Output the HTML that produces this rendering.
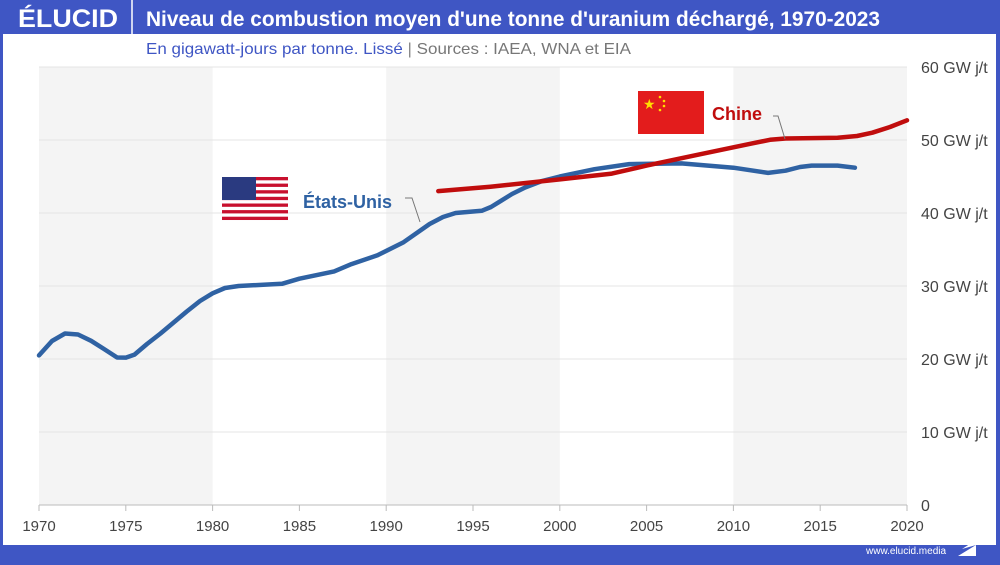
<!DOCTYPE html>
<html><head><meta charset="utf-8"><style>
body{margin:0;width:1000px;height:560px;overflow:hidden;background:#3f56c4;font-family:"Liberation Sans",sans-serif}
</style></head><body>
<svg width="1000" height="560" xmlns="http://www.w3.org/2000/svg" font-family="Liberation Sans, sans-serif">
<rect x="0" y="0" width="1000" height="560" fill="#3f56c4"/>
<rect x="3" y="34" width="993" height="511" fill="#fff"/>
<text x="18" y="27" fill="#fff" font-size="25" font-weight="bold" textLength="100" lengthAdjust="spacingAndGlyphs">ÉLUCID</text>
<line x1="132" y1="0" x2="132" y2="34" stroke="#fff" stroke-width="1.5"/>
<text x="146" y="26" fill="#fff" font-size="21" font-weight="bold" textLength="734" lengthAdjust="spacingAndGlyphs">Niveau de combustion moyen d'une tonne d'uranium déchargé, 1970-2023</text>
<text x="146" y="54" font-size="16" fill="#3f56c4" textLength="485" lengthAdjust="spacingAndGlyphs">En gigawatt-jours par tonne. Lissé <tspan fill="#888">|</tspan> <tspan fill="#777">Sources : IAEA, WNA et EIA</tspan></text>
<g fill="#f4f4f4">
<rect x="39" y="67" width="173.6" height="438"/>
<rect x="386.2" y="67" width="173.6" height="438"/>
<rect x="733.4" y="67" width="173.6" height="438"/>
</g>
<g stroke="#e4e4e4" stroke-width="1">
<line x1="39" x2="907" y1="67" y2="67"/><line x1="39" x2="907" y1="140" y2="140"/>
<line x1="39" x2="907" y1="213" y2="213"/><line x1="39" x2="907" y1="286" y2="286"/>
<line x1="39" x2="907" y1="359" y2="359"/><line x1="39" x2="907" y1="432" y2="432"/>
</g>
<line x1="39" x2="907" y1="505" y2="505" stroke="#bbb"/>
<g stroke="#bbb">
<line x1="39" x2="39" y1="505" y2="511"/><line x1="125.8" x2="125.8" y1="505" y2="511"/>
<line x1="212.6" x2="212.6" y1="505" y2="511"/><line x1="299.4" x2="299.4" y1="505" y2="511"/>
<line x1="386.2" x2="386.2" y1="505" y2="511"/><line x1="473" x2="473" y1="505" y2="511"/>
<line x1="559.8" x2="559.8" y1="505" y2="511"/><line x1="646.6" x2="646.6" y1="505" y2="511"/>
<line x1="733.4" x2="733.4" y1="505" y2="511"/><line x1="820.2" x2="820.2" y1="505" y2="511"/>
<line x1="907" x2="907" y1="505" y2="511"/>
</g>
<g font-size="15" fill="#444" text-anchor="middle">
<text x="39" y="531">1970</text><text x="125.8" y="531">1975</text><text x="212.6" y="531">1980</text>
<text x="299.4" y="531">1985</text><text x="386.2" y="531">1990</text><text x="473" y="531">1995</text>
<text x="559.8" y="531">2000</text><text x="646.6" y="531">2005</text><text x="733.4" y="531">2010</text>
<text x="820.2" y="531">2015</text><text x="907" y="531">2020</text>
</g>
<g font-size="16" fill="#444">
<text x="921" y="73">60 GW j/t</text><text x="921" y="146">50 GW j/t</text>
<text x="921" y="219">40 GW j/t</text><text x="921" y="292">30 GW j/t</text>
<text x="921" y="365">20 GW j/t</text><text x="921" y="438">10 GW j/t</text>
<text x="921" y="511">0</text>
</g>
<polyline fill="none" stroke="#2f62a3" stroke-width="4.5" stroke-linecap="round" stroke-linejoin="round" points="39,355.4 52,341 65,333.5 78,334.5 91.1,340.8 104,349 117.1,357.5 126,357.6 134.5,354.6 147,344 160.5,333.5 186.6,311.6 200,301 212.6,293.3 225,288 238.6,286 282,283.8 299.4,278.7 334.1,271.4 351.5,264.1 377.5,255.3 403.6,242.2 429.6,224 443,217 455.6,213 481.7,210.8 491,207 499,202.1 512,194 525.1,187.5 542,181 559.8,176.5 594.5,169.2 629.2,164.1 681.3,163.4 733.4,167.7 768.1,172.9 785.5,170.7 800,167 811.6,165.6 837.6,165.6 854.9,167.7"/>
<polyline fill="none" stroke="#c00d0d" stroke-width="4.5" stroke-linecap="round" stroke-linejoin="round" points="438.3,191.1 490.4,186.7 559.8,179.4 611.9,173.6 646.6,165.6 698.7,154.6 750.8,143.7 770,139.8 785.5,138.5 837.6,137.8 857,136 872.3,132.7 890,127 907,120.3"/>
<path d="M773 116 L778 116 L785 139" fill="none" stroke="#777" stroke-width="1"/>
<path d="M405 198 L412 198 L420 222" fill="none" stroke="#777" stroke-width="1"/>
<text x="712" y="120" font-size="18" font-weight="bold" fill="#c00d0d">Chine</text>
<text x="303" y="208" font-size="18" font-weight="bold" fill="#2f62a3">États-Unis</text>
<rect x="638" y="91" width="66" height="43" fill="#e31c1c"/>
<text x="643" y="109" font-size="14" fill="#ffde00">★</text>
<g fill="#ffde00"><circle cx="660" cy="97" r="1.3"/><circle cx="664" cy="101" r="1.3"/><circle cx="664" cy="106" r="1.3"/><circle cx="660" cy="110" r="1.3"/></g>
<rect x="222" y="177" width="66" height="43" fill="#fff"/>
<g fill="#c8102e">
<rect x="222" y="177" width="66" height="3.31"/><rect x="222" y="183.6" width="66" height="3.31"/>
<rect x="222" y="190.2" width="66" height="3.31"/><rect x="222" y="196.8" width="66" height="3.31"/>
<rect x="222" y="203.5" width="66" height="3.31"/><rect x="222" y="210.1" width="66" height="3.31"/>
<rect x="222" y="216.7" width="66" height="3.31"/>
</g>
<rect x="222" y="177" width="34" height="23" fill="#2a3a80"/>
<text x="866" y="554" font-size="10" fill="#fff">www.elucid.media</text>
<path d="M958 556 L976 545 L976 556 Z M962 549 L976 540 L976 545 Z" fill="#fff"/>
</svg>
</body></html>
